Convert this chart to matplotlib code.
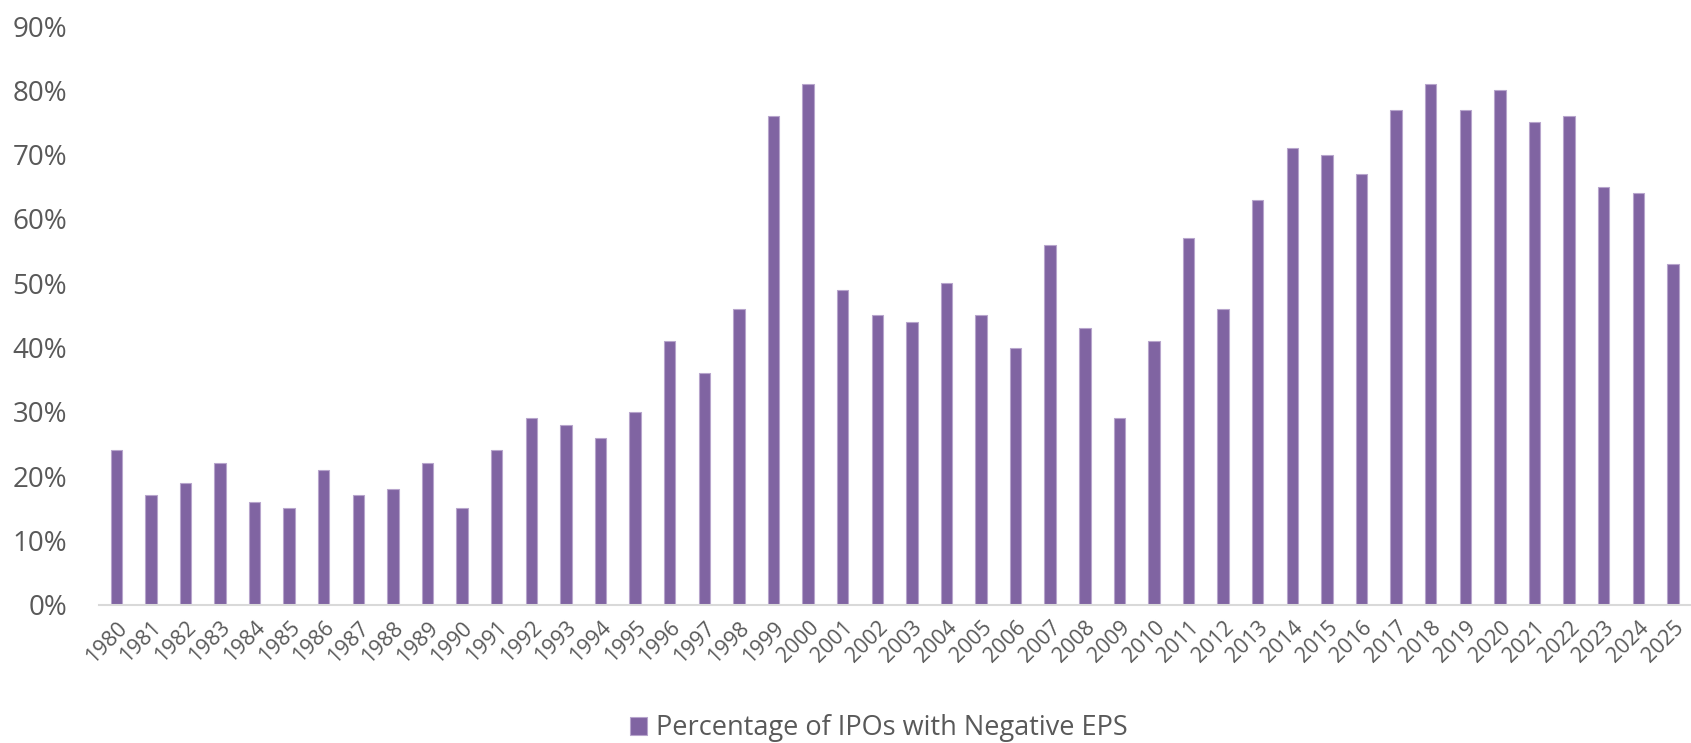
import matplotlib.pyplot as plt
from matplotlib.ticker import FuncFormatter

years = [str(y) for y in range(1980, 2026)]
neg_eps_pct = [24, 17, 19, 22, 16, 15, 21, 17, 18, 22, 15, 24, 29, 28, 26, 30,
               41, 36, 46, 76, 81, 49, 45, 44, 50, 45, 40, 56, 43, 29, 41, 57,
               46, 63, 71, 70, 67, 77, 81, 77, 80, 75, 76, 65, 64, 53]

plt.rcParams['font.family'] = ['Open Sans', 'DejaVu Sans']
grey = '#595959'

fig = plt.figure(figsize=(16.91, 7.43), dpi=100)
ax = fig.add_axes([0.0585, 0.186, 0.941, 0.779])

x = range(len(years))
ax.bar(x, neg_eps_pct, width=0.33, color='#8064A2', edgecolor='#B7A5CC',
       linewidth=0.8, label='Percentage of IPOs with Negative EPS')

ax.set_ylim(0, 90)
ax.set_yticks(range(0, 91, 10))
ax.yaxis.set_major_formatter(FuncFormatter(lambda v, p: f'{v:.0f}%'))
ax.set_xlim(-0.5, len(years) - 0.5)
ax.set_xticks(list(x))
ax.set_xticklabels(years, rotation=45, ha='right', rotation_mode='anchor')

ax.tick_params(axis='y', length=0, pad=23, labelsize=20, labelcolor=grey)
ax.tick_params(axis='x', length=0, pad=9, labelsize=15.5, labelcolor=grey)
for s in ['top', 'right', 'left']:
    ax.spines[s].set_visible(False)
ax.spines['bottom'].set_color('#D9D9D9')
ax.spines['bottom'].set_linewidth(1.5)

leg = ax.legend(loc='center', bbox_to_anchor=(0.49, -0.213), frameon=False,
                fontsize=19.5, handlelength=0.65, handleheight=0.65, handletextpad=0.3)
for t in leg.get_texts():
    t.set_color(grey)

fig.savefig('out.png', dpi=100)
